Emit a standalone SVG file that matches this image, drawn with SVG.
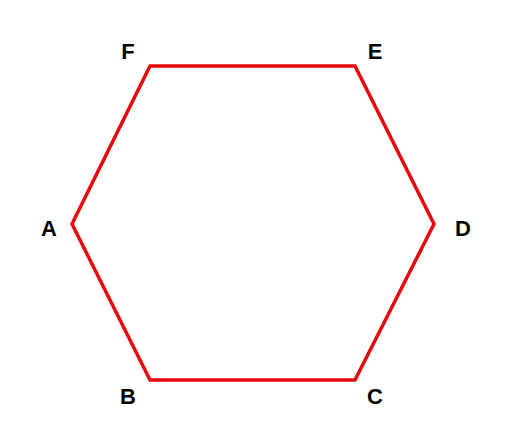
<svg xmlns="http://www.w3.org/2000/svg" width="508" height="440" viewBox="0 0 508 440">
<style>
.edge{fill:none;stroke:#e8080c;stroke-width:3.5;stroke-linejoin:miter}
.lbl{font-family:"Liberation Sans",Arial,sans-serif;font-weight:bold;font-size:22px;fill:#000;text-anchor:middle}
</style>
<rect width="508" height="440" fill="#fff"/>
<g id="connectors">
<polygon class="edge" points="72,224 150,380 355,380 434,224 355,66 150,66"/>
</g>
<g id="A"><text class="lbl" x="49" y="236">A</text></g>
<g id="B"><text class="lbl" x="128" y="404">B</text></g>
<g id="C"><text class="lbl" x="375" y="404">C</text></g>
<g id="D"><text class="lbl" x="463" y="236">D</text></g>
<g id="E"><text class="lbl" x="375" y="59">E</text></g>
<g id="F"><text class="lbl" x="128" y="59">F</text></g>
</svg>
